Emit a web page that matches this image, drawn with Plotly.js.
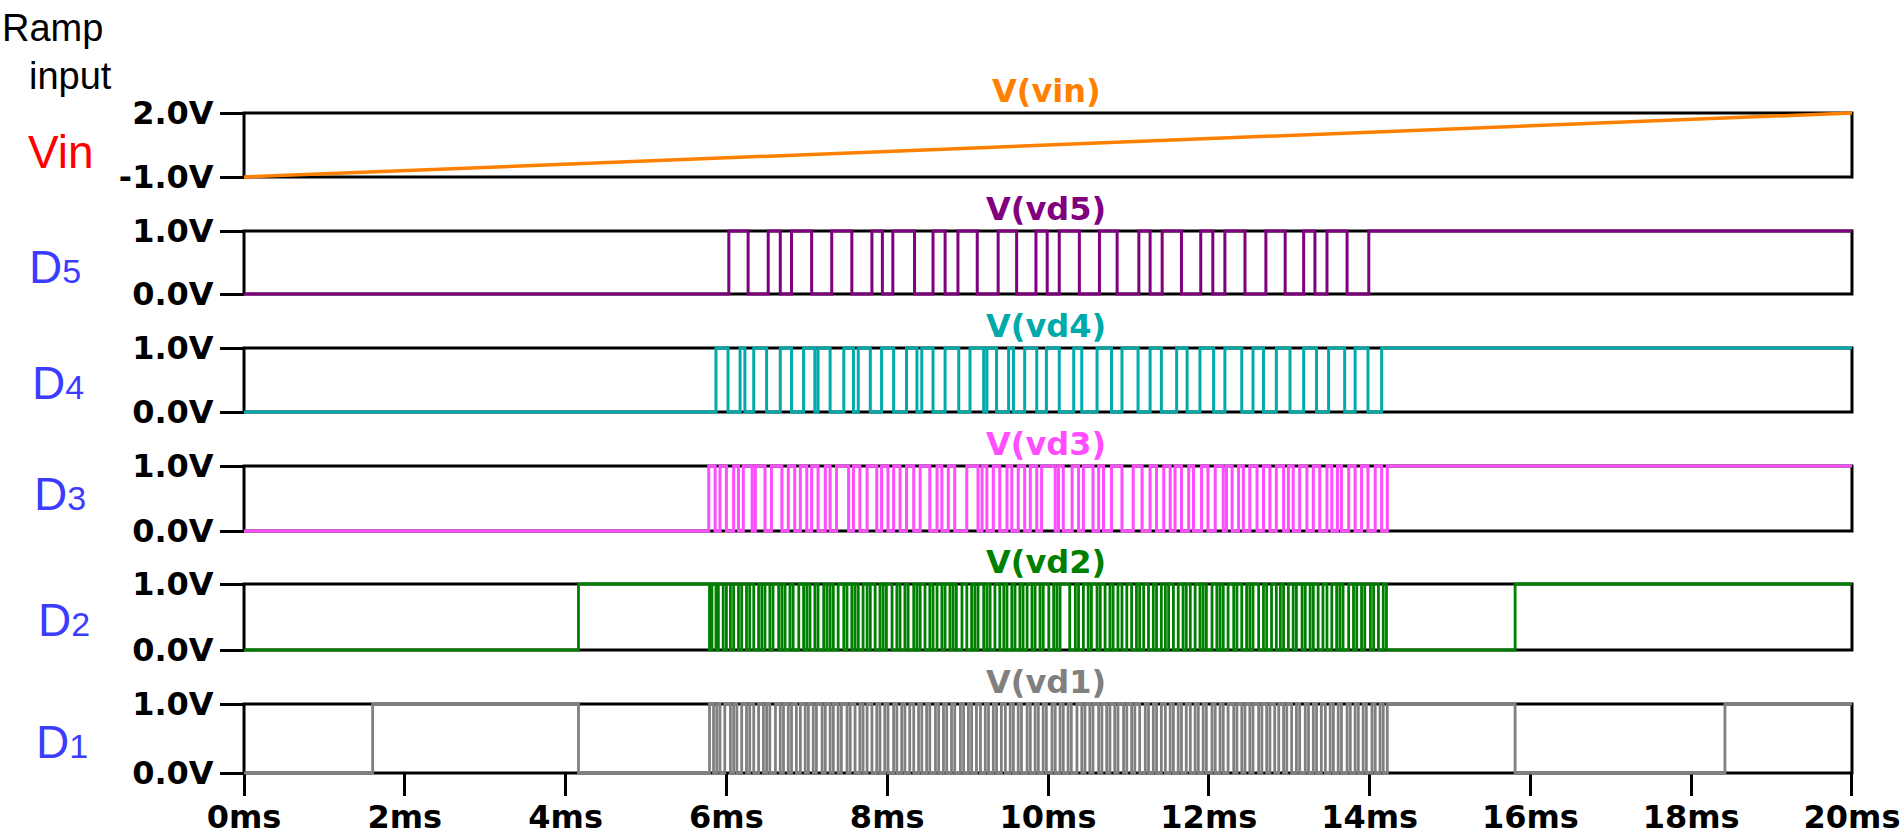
<!DOCTYPE html>
<html>
<head>
<meta charset="utf-8">
<script src="https://cdn.plot.ly/plotly-3.0.1.min.js"></script>
<style>
html,body{margin:0;padding:0;background:#ffffff;}
#chart{width:1902px;height:837px;}
</style>
</head>
<body>
<div id="chart"></div>
<script>
// ---------------- DATA ----------------
const timeTicks = [0, 2, 4, 6, 8, 10, 12, 14, 16, 18, 20];
const timeTickText = ['0ms','2ms','4ms','6ms','8ms','10ms','12ms','14ms','16ms','18ms','20ms'];
const timeEnd = 20;

const vinTime = [0, 20];
const vinVolts = [-1.0, 2.0];
const vinTicks = [-1, 2];
const vinTickText = ['-1.0V', '2.0V'];

const bitTicks = [0, 1];
const bitTickText = ['0.0V', '1.0V'];

const seriesNames = ['V(vin)', 'V(vd5)', 'V(vd4)', 'V(vd3)', 'V(vd2)', 'V(vd1)'];
const rowLabels = ['Vin', 'D5', 'D4', 'D3', 'D2', 'D1'];

// toggle times (ms) of each digital output, starting from level 0
const d5Toggles = [6.03, 6.27, 6.52, 6.67, 6.81, 7.06, 7.31, 7.56, 7.81, 7.94, 8.07, 8.34, 8.57, 8.72, 8.88, 9.12,
  9.38, 9.61, 9.85, 9.99, 10.14, 10.39, 10.64, 10.86, 11.13, 11.27, 11.42, 11.66, 11.90, 12.05, 12.20, 12.45,
  12.71, 12.95, 13.18, 13.32, 13.47, 13.72, 13.99];

const d4Toggles = [5.87, 6.02, 6.17, 6.23, 6.34, 6.50, 6.67, 6.81, 6.96, 7.10, 7.14, 7.29, 7.46, 7.58, 7.64, 7.79,
  7.93, 8.08, 8.24, 8.37, 8.43, 8.57, 8.72, 8.89, 9.03, 9.20, 9.24, 9.36, 9.51, 9.57, 9.71, 9.86, 9.98, 10.14,
  10.32, 10.42, 10.61, 10.79, 10.92, 11.12, 11.27, 11.41, 11.60, 11.73, 11.89, 12.06, 12.20, 12.41, 12.55, 12.68,
  12.84, 13.01, 13.18, 13.34, 13.49, 13.69, 13.82, 13.98, 14.15];

const d3Toggles = [5.78, 5.86, 5.92, 6.00, 6.09, 6.15, 6.21, 6.32, 6.36, 6.48, 6.56, 6.69, 6.77, 6.85, 6.92, 7.00,
  7.06, 7.14, 7.23, 7.29, 7.37, 7.52, 7.58, 7.66, 7.75, 7.87, 7.93, 8.01, 8.08, 8.16, 8.24, 8.33, 8.41, 8.53,
  8.62, 8.68, 8.76, 8.84, 8.99, 9.13, 9.18, 9.24, 9.32, 9.40, 9.49, 9.55, 9.63, 9.71, 9.78, 9.86, 9.92, 10.09,
  10.13, 10.19, 10.30, 10.38, 10.44, 10.56, 10.63, 10.69, 10.79, 10.92, 11.06, 11.17, 11.27, 11.35, 11.44, 11.52,
  11.58, 11.66, 11.75, 11.81, 11.91, 11.99, 12.08, 12.18, 12.22, 12.29, 12.37, 12.43, 12.51, 12.60, 12.68, 12.76,
  12.84, 12.93, 12.99, 13.05, 13.13, 13.22, 13.30, 13.38, 13.47, 13.53, 13.60, 13.65, 13.74, 13.82, 13.90, 13.98,
  14.07, 14.15, 14.22];

const d2Toggles = [4.16,
  5.79, 5.82, 5.87, 5.90, 5.96, 6.00, 6.05, 6.09, 6.15, 6.19, 6.25, 6.29, 6.34, 6.40, 6.44, 6.48, 6.54, 6.58,
  6.65, 6.69, 6.73, 6.79, 6.83, 6.90, 6.96, 7.00, 7.04, 7.10, 7.14, 7.21, 7.25, 7.29, 7.33, 7.39, 7.46, 7.50,
  7.56, 7.60, 7.64, 7.70, 7.75, 7.79, 7.85, 7.91, 7.95, 7.99, 8.06, 8.12, 8.16, 8.22, 8.26, 8.33, 8.37, 8.41,
  8.47, 8.53, 8.57, 8.62, 8.68, 8.72, 8.78, 8.82, 8.86, 8.93, 8.99, 9.05, 9.09, 9.13, 9.20, 9.24, 9.28, 9.34,
  9.40, 9.45, 9.49, 9.55, 9.59, 9.65, 9.69, 9.74, 9.80, 9.84, 9.90, 9.94, 10.01,
  10.07, 10.11, 10.15, 10.27, 10.34, 10.38, 10.44, 10.50, 10.54, 10.61, 10.65, 10.71, 10.77, 10.81, 10.87, 10.92,
  10.98, 11.04, 11.10, 11.14, 11.19, 11.25, 11.31, 11.35, 11.41, 11.46, 11.50, 11.56, 11.62, 11.68, 11.72, 11.77,
  11.83, 11.89, 11.93, 11.97, 12.04, 12.10, 12.14, 12.18, 12.24, 12.31, 12.35, 12.41, 12.47, 12.51, 12.55, 12.62,
  12.68, 12.72, 12.78, 12.84, 12.89, 12.93, 12.99, 13.05, 13.09, 13.16, 13.20, 13.26, 13.30, 13.36, 13.42, 13.47,
  13.53, 13.59, 13.63, 13.67, 13.74, 13.80, 13.84, 13.90, 13.94, 14.01, 14.05, 14.11, 14.17, 14.21,
  15.81];

const d1Toggles = [1.60, 4.16,
  5.79, 5.84, 5.88, 5.92, 5.98, 6.05, 6.09, 6.13, 6.19, 6.25, 6.29, 6.34, 6.40, 6.46, 6.50, 6.54, 6.61, 6.67,
  6.71, 6.77, 6.81, 6.87, 6.92, 6.98, 7.02, 7.08, 7.12, 7.19, 7.23, 7.29, 7.33, 7.39, 7.43, 7.50, 7.54, 7.60,
  7.66, 7.70, 7.75, 7.81, 7.87, 7.91, 7.97, 8.01, 8.08, 8.12, 8.18, 8.22, 8.28, 8.33, 8.39, 8.43, 8.49, 8.53,
  8.60, 8.64, 8.70, 8.74, 8.80, 8.84, 8.91, 8.95, 9.01, 9.05, 9.11, 9.16, 9.22, 9.26, 9.32, 9.36, 9.42, 9.47,
  9.53, 9.57, 9.63, 9.67, 9.74, 9.78, 9.84, 9.88, 9.94, 9.98,
  10.05, 10.09, 10.15, 10.19, 10.25, 10.29, 10.36, 10.42, 10.46, 10.52, 10.56, 10.63, 10.67, 10.73, 10.77, 10.83,
  10.87, 10.94, 10.98, 11.04, 11.08, 11.14, 11.21, 11.25, 11.31, 11.35, 11.41, 11.46, 11.52, 11.56, 11.62, 11.66,
  11.72, 11.77, 11.83, 11.87, 11.93, 11.97, 12.04, 12.08, 12.14, 12.18, 12.24, 12.31, 12.35, 12.41, 12.45, 12.51,
  12.55, 12.62, 12.66, 12.72, 12.76, 12.82, 12.87, 12.93, 12.97, 13.03, 13.09, 13.13, 13.20, 13.24, 13.30, 13.34,
  13.40, 13.45, 13.51, 13.55, 13.61, 13.65, 13.72, 13.76, 13.82, 13.86, 13.92, 13.96, 14.03, 14.07, 14.13, 14.17,
  14.22,
  15.81, 18.42];

// ---------------- STYLE / LAYOUT ----------------
const colors = ['#ff7f00', '#800080', '#00aaaa', '#ff4dff', '#008000', '#808080'];
const lineWidths = [3.5, 3, 3, 3, 2.8, 2.8];
const W = 1902, H = 837;
const mL = 240, mR = 46, plotTop = 100, plotBottom = 777;
const plotW = W - mL - mR;
const panelPx = [[113, 177], [231, 294], [348, 412], [466, 531], [584, 650], [704, 773]];
const pad = 3;
const tickFont = {family: 'DejaVu Sans, Verdana, sans-serif', size: 32, color: '#000000', weight: 'bold'};

function fy(px) { return (plotBottom - px) / (plotBottom - plotTop); }
function fx(px) { return (px - mL) / plotW; }

function stepSeries(toggles) {
  let s = 0;
  const x = [0], y = [s];
  toggles.forEach(t => { s = 1 - s; x.push(t); y.push(s); });
  x.push(timeEnd); y.push(s);
  return {x, y};
}

const digital = [d5Toggles, d4Toggles, d3Toggles, d2Toggles, d1Toggles].map(stepSeries);

const traces = [];
traces.push({x: vinTime, y: vinVolts, type: 'scatter', mode: 'lines', xaxis: 'x', yaxis: 'y',
  line: {color: colors[0], width: lineWidths[0]}, hoverinfo: 'skip', showlegend: false});
digital.forEach((d, i) => {
  traces.push({x: d.x, y: d.y, type: 'scatter', mode: 'lines', xaxis: 'x', yaxis: 'y' + (i + 2),
    line: {color: colors[i + 1], width: lineWidths[i + 1], shape: 'hv'}, hoverinfo: 'skip', showlegend: false});
});

const layout = {
  width: W, height: H,
  margin: {l: mL, r: mR, t: plotTop, b: H - plotBottom, pad: 0},
  paper_bgcolor: '#ffffff', plot_bgcolor: 'rgba(0,0,0,0)',
  showlegend: false,
  xaxis: {
    range: [-0.05, 20.05], anchor: 'free', position: fy(773),
    tickvals: timeTicks, ticktext: timeTickText, tickfont: tickFont,
    ticks: 'outside', ticklen: 22, tickwidth: 3, tickcolor: '#000000',
    ticklabelstandoff: -6,
    showline: false, showgrid: false, zeroline: false
  },
  shapes: [], annotations: []
};

const bounds = [[vinTicks[0], vinTicks[1]], [0, 1], [0, 1], [0, 1], [0, 1], [0, 1]];
panelPx.forEach((p, i) => {
  const [yt, yb] = p;
  const [lo, hi] = bounds[i];
  const ext = (hi - lo) * pad / (yb - yt);
  const key = i === 0 ? 'yaxis' : 'yaxis' + (i + 1);
  const ref = i === 0 ? 'y' : 'y' + (i + 1);
  layout[key] = {
    domain: [fy(yb + pad), fy(yt - pad)],
    range: [lo - ext, hi + ext],
    anchor: 'free', position: fx(244),
    tickvals: i === 0 ? vinTicks : bitTicks,
    ticktext: i === 0 ? vinTickText : bitTickText,
    tickfont: tickFont,
    ticks: 'outside', ticklen: 24, tickwidth: 3, tickcolor: '#000000',
    showline: false, showgrid: false, zeroline: false
  };
  layout.shapes.push({type: 'rect', xref: 'x', yref: ref, x0: 0, x1: timeEnd, y0: lo, y1: hi,
    line: {color: '#000000', width: 3}, fillcolor: 'rgba(0,0,0,0)', layer: 'below'});
  // series name above each panel
  layout.annotations.push({xref: 'paper', yref: 'paper', x: fx(1046), y: fy(yt - 22),
    xanchor: 'center', yanchor: 'middle', showarrow: false,
    text: '<b>' + seriesNames[i] + '</b>',
    font: {family: 'DejaVu Sans, Verdana, sans-serif', size: 32, color: colors[i]}});
});

// left-hand row labels
const leftFont = 'Liberation Sans, Arial, sans-serif';
layout.annotations.push({xref: 'paper', yref: 'paper', x: fx(52), y: fy(28), xanchor: 'center', yanchor: 'middle',
  showarrow: false, text: 'Ramp', font: {family: leftFont, size: 38, color: '#000000'}});
layout.annotations.push({xref: 'paper', yref: 'paper', x: fx(70), y: fy(76), xanchor: 'center', yanchor: 'middle',
  showarrow: false, text: 'input', font: {family: leftFont, size: 38, color: '#000000'}});
layout.annotations.push({xref: 'paper', yref: 'paper', x: fx(61), y: fy(152), xanchor: 'center', yanchor: 'middle',
  showarrow: false, text: rowLabels[0], font: {family: leftFont, size: 46, color: '#ff0000'}});
const dCenters = [[55, 267], [58, 383], [60, 494], [64, 620], [62, 742]];
dCenters.forEach((c, i) => {
  const lbl = rowLabels[i + 1];
  layout.annotations.push({xref: 'paper', yref: 'paper', x: fx(c[0]), y: fy(c[1]), xanchor: 'center', yanchor: 'middle',
    showarrow: false,
    text: lbl.charAt(0) + '<span style="font-size:34px">' + lbl.slice(1) + '</span>',
    font: {family: leftFont, size: 46, color: '#3c3cff'}});
});

Plotly.newPlot('chart', traces, layout, {staticPlot: true, displayModeBar: false});
</script>
</body>
</html>
